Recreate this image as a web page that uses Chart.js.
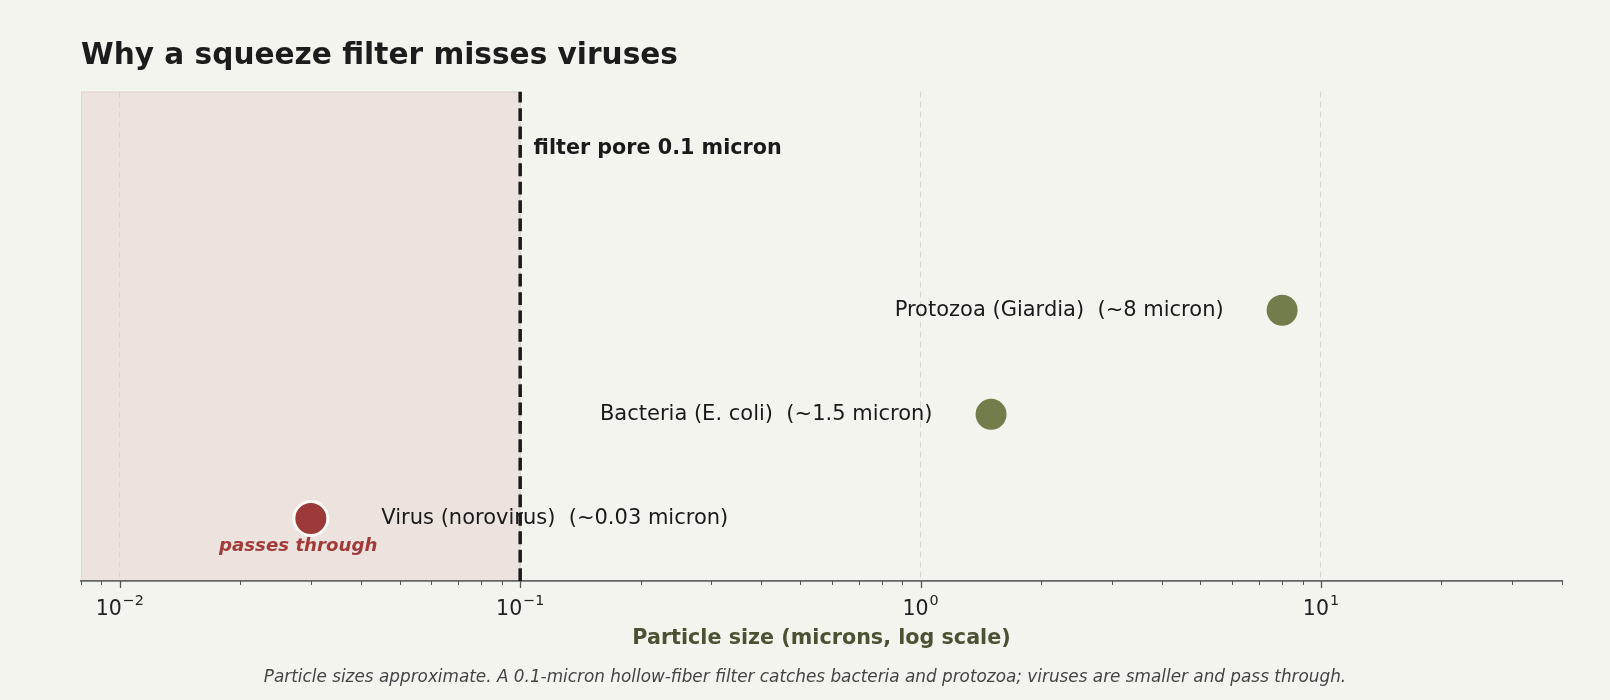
<!DOCTYPE html>
<html>
<head>
<meta charset="utf-8">
<script src="https://cdn.jsdelivr.net/npm/chart.js@4/dist/chart.umd.min.js"></script>
<style>
  html, body { margin: 0; padding: 0; background: #f4f4ef; }
  canvas { display: block; }
</style>
</head>
<body>
<canvas id="c" width="1610" height="700"></canvas>
<script>
// ---------- data ----------
const particleNames = ['Virus (norovirus)', 'Bacteria (E. coli)', 'Protozoa (Giardia)'];
const sizeNotes = ['(~0.03 micron)', '(~1.5 micron)', '(~8 micron)'];
const particleSizes = [0.03, 1.5, 8];
const particleRows = [0, 1, 2];
const passesFilter = [true, false, false];
const filterPore = 0.1;
const xRange = [0.008, 40];
const yRange = [-0.6, 4.1];
const majorTickValues = [0.01, 0.1, 1, 10];
const majorTickBase = ['10', '10', '10', '10'];
const majorTickExponents = ['−2', '−1', '0', '1'];
const tickDecades = [0.001, 0.01, 0.1, 1, 10];
const tickMultipliers = [1, 2, 3, 4, 5, 6, 7, 8, 9];

const titleText = 'Why a squeeze filter misses viruses';
const xTitleText = 'Particle size (microns, log scale)';
const poreLabel = 'filter pore 0.1 micron';
const passLabel = 'passes through';
const captionText = 'Particle sizes approximate. A 0.1-micron hollow-fiber filter catches bacteria and protozoa; viruses are smaller and pass through.';

// ---------- styles ----------
const FONT = "'DejaVu Sans', sans-serif";
const BG = '#f4f4ef';
const RED = '#9c3a3a';
const GREEN = '#737c4b';

const allTicks = [];
tickDecades.forEach(d => tickMultipliers.forEach(m => {
  const v = +(d * m).toPrecision(6);
  if (v >= xRange[0] - 1e-12 && v <= xRange[1] + 1e-9) allTicks.push(v);
}));
function majorIndex(v) {
  return majorTickValues.findIndex(t => Math.abs(Math.log10(v) - Math.log10(t)) < 1e-6);
}

const bgPlugin = {
  id: 'bgShade',
  beforeDraw(chart) {
    const ctx = chart.ctx;
    ctx.save();
    ctx.fillStyle = BG;
    ctx.fillRect(0, 0, chart.width, chart.height);
    const xs = chart.scales.x, a = chart.chartArea;
    const x1 = xs.getPixelForValue(xRange[0]);
    const x2 = xs.getPixelForValue(filterPore);
    ctx.fillStyle = 'rgba(158,56,56,0.09)';
    ctx.fillRect(x1, a.top, x2 - x1, a.bottom - a.top);
    ctx.strokeStyle = 'rgba(158,56,56,0.09)';
    ctx.lineWidth = 1;
    ctx.strokeRect(x1 + 0.5, a.top + 0.5, x2 - x1 - 1, a.bottom - a.top - 1);
    ctx.restore();
  }
};

const labelPlugin = {
  id: 'labels',
  beforeDatasetsDraw(chart) {
    const ctx = chart.ctx, xs = chart.scales.x, ys = chart.scales.y;
    ctx.save();
    ctx.textBaseline = 'middle';
    ctx.fillStyle = '#1a1a1a';
    ctx.font = `21px ${FONT}`;
    particleNames.forEach((name, i) => {
      const py = ys.getPixelForValue(particleRows[i]);
      const txt = name + '  ' + sizeNotes[i];
      if (passesFilter[i]) {
        ctx.textAlign = 'left';
        ctx.fillText(txt, xs.getPixelForValue(particleSizes[i] * 1.5), py);
      } else {
        ctx.textAlign = 'right';
        ctx.fillText(txt, xs.getPixelForValue(particleSizes[i] / 1.4), py);
      }
    });
    // pass-through note
    ctx.font = `italic bold 18.2px ${FONT}`;
    ctx.fillStyle = '#a23a3a';
    ctx.textAlign = 'center';
    const vi = passesFilter.indexOf(true);
    ctx.fillText(passLabel, xs.getPixelForValue(particleSizes[vi] * 0.93), ys.getPixelForValue(-0.27));
    // filter label
    ctx.font = `bold 20.7px ${FONT}`;
    ctx.fillStyle = '#1a1a1a';
    ctx.textAlign = 'left';
    ctx.fillText(poreLabel, xs.getPixelForValue(filterPore * 1.08), ys.getPixelForValue(3.55));
    ctx.restore();
  }
};

const tickPlugin = {
  id: 'ticksAndCaption',
  afterDraw(chart) {
    const ctx = chart.ctx, xs = chart.scales.x, a = chart.chartArea;
    ctx.save();
    ctx.strokeStyle = '#555555';
    xs.ticks.forEach(t => {
      const major = majorIndex(t.value) >= 0;
      const x = Math.round(xs.getPixelForValue(t.value)) + 0.5;
      ctx.lineWidth = major ? 1.3 : 1;
      ctx.beginPath();
      ctx.moveTo(x, a.bottom);
      ctx.lineTo(x, a.bottom + (major ? 7 : 4));
      ctx.stroke();
    });
    // major tick labels: base + superscript exponent
    ctx.fillStyle = '#222222';
    ctx.textBaseline = 'alphabetic';
    ctx.textAlign = 'left';
    const baseY = a.bottom + 34;
    majorTickValues.forEach((v, k) => {
      const x = xs.getPixelForValue(v);
      ctx.font = `20.5px ${FONT}`;
      const wb = ctx.measureText(majorTickBase[k]).width;
      ctx.font = `14.3px ${FONT}`;
      const we = ctx.measureText(majorTickExponents[k]).width;
      const x0 = x - (wb + we + 1) / 2;
      ctx.font = `20.5px ${FONT}`;
      ctx.fillText(majorTickBase[k], x0, baseY);
      ctx.font = `14.3px ${FONT}`;
      ctx.fillText(majorTickExponents[k], x0 + wb + 1, baseY - 10);
    });
    // caption
    ctx.font = `italic 16.85px ${FONT}`;
    ctx.fillStyle = '#444444';
    ctx.textAlign = 'center';
    ctx.textBaseline = 'middle';
    ctx.fillText(captionText, chart.width / 2, 678);
    ctx.restore();
  }
};

const pointData = particleSizes.map((s, i) => ({ x: s, y: particleRows[i] }));

new Chart(document.getElementById('c'), {
  type: 'scatter',
  data: {
    datasets: [
      {
        data: pointData,
        pointRadius: 17,
        pointHoverRadius: 17,
        pointBorderWidth: 3,
        pointBackgroundColor: passesFilter.map(p => p ? RED : GREEN),
        pointBorderColor: passesFilter.map(p => p ? '#fbfaf6' : BG),
        order: 0
      },
      {
        data: [{ x: filterPore, y: yRange[0] }, { x: filterPore, y: yRange[1] }],
        showLine: true,
        pointRadius: 0,
        borderColor: '#1a1a1a',
        borderWidth: 3.5,
        borderDash: [12.8, 5.6],
        borderCapStyle: 'butt',
        fill: false,
        order: 1
      }
    ]
  },
  options: {
    responsive: false,
    devicePixelRatio: 1,
    animation: false,
    events: [],
    layout: { padding: { left: 81, right: 48, top: 0, bottom: 49 } },
    plugins: {
      legend: { display: false },
      tooltip: { enabled: false },
      title: {
        display: true,
        text: titleText,
        align: 'start',
        color: '#1c1c1c',
        font: { family: FONT, size: 29.6, weight: 'bold' },
        padding: { top: 39, bottom: 17 }
      }
    },
    scales: {
      x: {
        type: 'logarithmic',
        position: 'bottom',
        min: xRange[0],
        max: xRange[1],
        afterBuildTicks: (scale) => {
          scale.ticks = allTicks.map(v => ({ value: v, major: majorIndex(v) >= 0 }));
        },
        ticks: {
          display: false,
          autoSkip: false,
          maxRotation: 0
        },
        grid: {
          color: (c) => (c.tick && majorIndex(c.tick.value) >= 0) ? '#d6d6d0' : 'rgba(0,0,0,0)',
          lineWidth: 1,
          drawTicks: true,
          tickLength: 7,
          tickColor: 'rgba(0,0,0,0)'
        },
        border: { display: true, color: '#666666', width: 1.8, dash: [6, 4] },
        title: {
          display: true,
          text: xTitleText,
          color: '#4b5233',
          font: { family: FONT, size: 20.7, weight: 'bold' },
          padding: { top: 38.2, bottom: 0 }
        }
      },
      y: {
        type: 'linear',
        display: false,
        min: yRange[0],
        max: yRange[1]
      }
    }
  },
  plugins: [bgPlugin, labelPlugin, tickPlugin]
});
</script>
</body>
</html>
